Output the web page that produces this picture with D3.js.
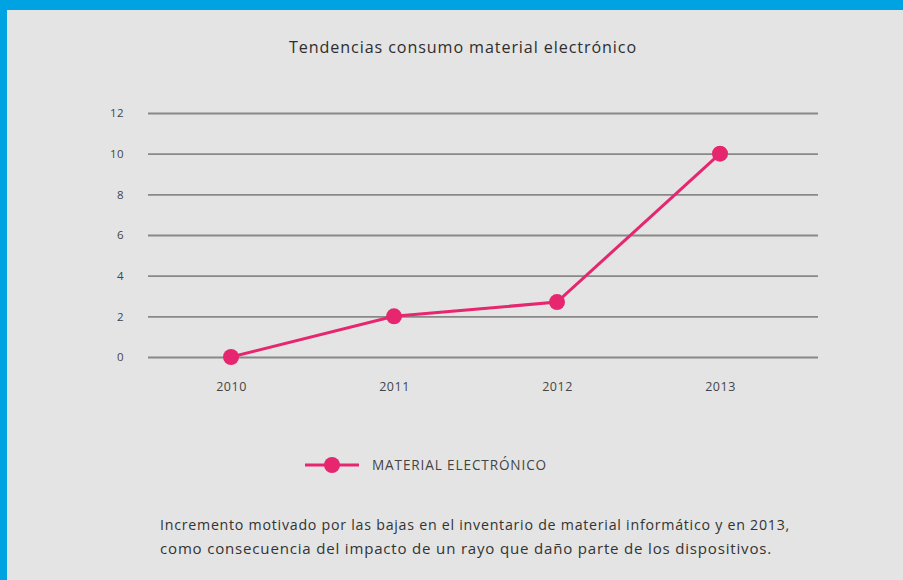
<!DOCTYPE html>
<html>
<head>
<meta charset="utf-8">
<script src="https://cdn.jsdelivr.net/npm/d3@7/dist/d3.min.js"></script>
<style>
  html, body { margin: 0; padding: 0; background: #00a3e2; }
  svg { display: block; }
</style>
</head>
<body>
<svg id="chart" width="903" height="580"></svg>
<script>
// Data
const years = ["2010", "2011", "2012", "2013"];
const values = [0, 2, 2.7, 10];
const yTicks = [0, 2, 4, 6, 8, 10, 12];
const seriesName = "MATERIAL ELECTRÓNICO";
const title = "Tendencias consumo material electrónico";
const noteLines = [
  "Incremento motivado por las bajas en el inventario de material informático y en 2013,",
  "como consecuencia del impacto de un rayo que daño parte de los dispositivos."
];

const pink = "#e6266f";
const svg = d3.select("#chart");
const font = "'Open Sans', sans-serif";

// Size a text so it spans the given width: mostly by font size, the rest by letter spacing
function fitWidth(sel, width, share) {
  sel.each(function () {
    const len = this.getComputedTextLength();
    const fs = parseFloat(this.getAttribute("font-size"));
    this.setAttribute("font-size", (fs * width * share / len).toFixed(2));
    const len2 = this.getComputedTextLength();
    const n = this.textContent.length;
    this.setAttribute("letter-spacing", ((width - len2) / n).toFixed(3));
  });
}

// Panel inside the blue frame
svg.append("rect").attr("x", 7).attr("y", 10).attr("width", 896).attr("height", 570).attr("fill", "#e4e4e4");

svg.append("text")
  .attr("x", 289).attr("y", 53)
  .attr("font-family", font).attr("font-size", 15).attr("fill", "#2e2e2e")
  .text(title)
  .call(fitWidth, 348, 0.9);

const x = d3.scalePoint().domain(years).range([231, 720]);
const y = d3.scaleLinear().domain([0, 12]).range([357, 113]);

// Y axis with gridlines
const yAxis = svg.append("g").attr("transform", "translate(148,0)")
  .call(d3.axisLeft(y).tickValues(yTicks).tickSize(-670).tickPadding(24));
yAxis.select(".domain").remove();
yAxis.selectAll(".tick line").attr("stroke", "#888").attr("stroke-width", 1.8);
yAxis.selectAll(".tick text").attr("font-family", font).attr("font-size", 11.5)
  .attr("letter-spacing", 0.4).attr("fill", "#444");

// X axis labels
const xAxis = svg.append("g").attr("transform", "translate(0,357)")
  .call(d3.axisBottom(x).tickSize(0).tickPadding(25));
xAxis.select(".domain").remove();
xAxis.selectAll(".tick text").attr("font-family", font).attr("font-size", 12.5)
  .attr("letter-spacing", 0.5).attr("fill", "#444");

// Series line and markers
const line = d3.line().x((d, i) => x(years[i])).y(d => y(d));
svg.append("path").datum(values)
  .attr("d", line).attr("fill", "none")
  .attr("stroke", pink).attr("stroke-width", 3);
svg.selectAll("circle.pt").data(values).join("circle")
  .attr("class", "pt")
  .attr("cx", (d, i) => x(years[i])).attr("cy", d => y(d))
  .attr("r", 8).attr("fill", pink);

// Legend
svg.append("line").attr("x1", 305).attr("x2", 359).attr("y1", 465).attr("y2", 465)
  .attr("stroke", pink).attr("stroke-width", 3);
svg.append("circle").attr("cx", 332).attr("cy", 465).attr("r", 8).attr("fill", pink);
svg.append("text").attr("x", 372).attr("y", 469.5)
  .attr("font-family", font).attr("font-size", 12).attr("fill", "#444")
  .text(seriesName)
  .call(fitWidth, 175, 0.9);

// Footnote
const noteWidths = [630, 612];
svg.selectAll("text.note").data(noteLines).join("text")
  .attr("class", "note")
  .attr("x", 160).attr("y", (d, i) => 530 + i * 24)
  .attr("font-family", font).attr("font-size", 13.5).attr("fill", "#333")
  .text(d => d)
  .each(function (d, i) { d3.select(this).call(fitWidth, noteWidths[i], 0.9); });
</script>
</body>
</html>
